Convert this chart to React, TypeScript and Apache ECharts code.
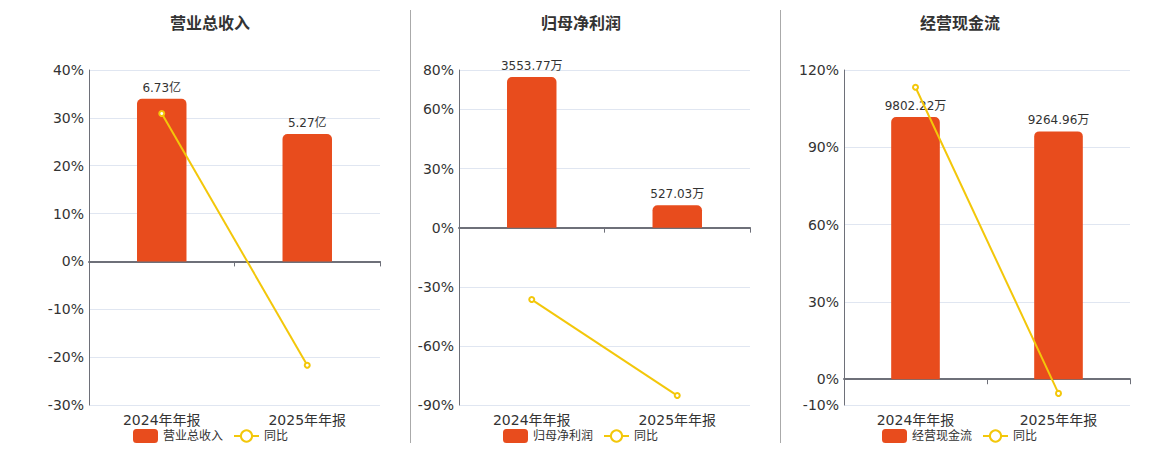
import React, { useEffect, useRef } from "react";
import * as echarts from "echarts";

const categories = ["2024年年报", "2025年年报"];

const revenueName = "营业总收入";
const revenueValues = [6.73, 5.27]; // 亿
const revenueYoY = [30.9, -21.7]; // %
const revenueTicks = [-30, -20, -10, 0, 10, 20, 30, 40];

const profitName = "归母净利润";
const profitValues = [3553.77, 527.03]; // 万
const profitYoY = [-36.5, -85.2]; // %
const profitTicks = [-90, -60, -30, 0, 30, 60, 80];

const cashName = "经营现金流";
const cashValues = [9802.22, 9264.96]; // 万
const cashYoY = [113.3, -5.5]; // %
const cashTicks = [-10, 0, 30, 60, 90, 120];

const yoyName = "同比";

const FONT = "'DejaVu Sans', 'Noto Sans CJK SC', sans-serif";
const BAR_COLOR = "#E84C1D";
const LINE_COLOR = "#F3C70A";
const AXIS_COLOR = "#6E7079";
const SPLIT_COLOR = "#E0E6F1";
const TEXT_COLOR = "#333";

type Panel = {
  name: string;
  values: number[];
  yoy: number[];
  ticks: number[];
  unit: string;
  fill: number; // fraction of the top tick that the tallest bar reaches
  grid: { left: number; right: number };
  center: number;
  legendLeft: number;
};

const panels: Panel[] = [
  { name: revenueName, values: revenueValues, yoy: revenueYoY, ticks: revenueTicks, unit: "亿", fill: 0.85, grid: { left: 89, right: 780 }, center: 210, legendLeft: 128 },
  { name: profitName, values: profitValues, yoy: profitYoY, ticks: profitTicks, unit: "万", fill: 0.955, grid: { left: 459, right: 410 }, center: 581, legendLeft: 498 },
  { name: cashName, values: cashValues, yoy: cashYoY, ticks: cashTicks, unit: "万", fill: 0.848, grid: { left: 844, right: 30 }, center: 960, legendLeft: 877 },
];

function buildOption() {
  const grid: any[] = [];
  const xAxis: any[] = [];
  const yAxis: any[] = [];
  const series: any[] = [];
  const legend: any[] = [];
  const graphic: any[] = [];

  panels.forEach((p, i) => {
    const pMin = Math.min(...p.ticks);
    const pMax = Math.max(...p.ticks);
    const barMax = Math.max(...p.values) / p.fill;
    const barMin = (barMax * pMin) / pMax;

    grid.push({ left: p.grid.left, right: p.grid.right, top: 70, bottom: 45, containLabel: false });

    // zero line with ticks
    xAxis.push({
      type: "category",
      gridIndex: i,
      data: categories,
      boundaryGap: true,
      axisLine: { show: true, onZero: true, lineStyle: { color: AXIS_COLOR, width: 2 } },
      axisTick: { show: true, length: 5, lineStyle: { color: AXIS_COLOR, width: 1 } },
      axisLabel: { show: false },
      splitLine: { show: false },
    });
    // bottom labels
    xAxis.push({
      type: "category",
      gridIndex: i,
      position: "bottom",
      data: categories,
      boundaryGap: true,
      axisLine: { show: false, onZero: false },
      axisTick: { show: false },
      axisLabel: { show: true, margin: 8, fontSize: 14, color: TEXT_COLOR, fontFamily: FONT },
      splitLine: { show: false },
    });

    yAxis.push({
      type: "value",
      gridIndex: i,
      position: "left",
      min: pMin,
      max: pMax,
      axisLine: { show: true, lineStyle: { color: AXIS_COLOR, width: 1 } },
      axisTick: { show: false, customValues: p.ticks },
      axisLabel: { customValues: p.ticks, formatter: "{value}%", fontSize: 14, color: TEXT_COLOR, fontFamily: FONT, margin: 5 },
      splitLine: { show: true, lineStyle: { color: SPLIT_COLOR, width: 1 } },
    });
    yAxis.push({
      type: "value",
      gridIndex: i,
      position: "right",
      show: false,
      min: barMin,
      max: barMax,
      splitLine: { show: false },
    });

    series.push({
      name: p.name,
      type: "bar",
      xAxisIndex: i * 2,
      yAxisIndex: i * 2 + 1,
      data: p.values,
      barWidth: "34%",
      itemStyle: { color: BAR_COLOR, borderRadius: [5, 5, 0, 0] },
      label: {
        show: true,
        position: "top",
        distance: 5,
        fontSize: 12,
        color: TEXT_COLOR,
        fontFamily: FONT,
        formatter: (params: any) => `${params.value}${p.unit}`,
      },
      z: 2,
    });
    series.push({
      name: yoyName,
      type: "line",
      xAxisIndex: i * 2,
      yAxisIndex: i * 2,
      data: p.yoy,
      symbol: "emptyCircle",
      symbolSize: 5,
      lineStyle: { color: LINE_COLOR, width: 2 },
      itemStyle: { color: LINE_COLOR, borderColor: LINE_COLOR, borderWidth: 1.5 },
      z: 3,
    });

    legend.push({
      data: [p.name, yoyName],
      left: p.legendLeft,
      top: 424,
      itemWidth: 25,
      itemHeight: 14,
      itemGap: 10,
      textStyle: { fontSize: 12, color: TEXT_COLOR, fontFamily: FONT },
    });

    graphic.push({
      type: "text",
      x: p.center,
      y: 23,
      style: {
        text: p.name,
        align: "center",
        verticalAlign: "middle",
        fill: TEXT_COLOR,
        font: `bold 16px ${FONT}`,
      },
    });
  });

  [410.5, 780.5].forEach((x) => {
    graphic.push({
      type: "line",
      shape: { x1: x, y1: 10, x2: x, y2: 443 },
      style: { stroke: "#AAAAAA", lineWidth: 1 },
    });
  });

  return {
    animation: false,
    backgroundColor: "#fff",
    textStyle: { fontFamily: FONT },
    grid,
    xAxis,
    yAxis,
    series,
    legend,
    graphic,
  };
}

export default function App() {
  const ref = useRef<HTMLDivElement>(null);
  useEffect(() => {
    if (!ref.current) return;
    const chart = echarts.init(ref.current, undefined, { renderer: "svg" });
    chart.setOption(buildOption() as any);
    return () => {
      chart.dispose();
    };
  }, []);
  return <div ref={ref} style={{ position: "absolute", left: 0, top: 0, width: 1160, height: 450 }} />;
}
